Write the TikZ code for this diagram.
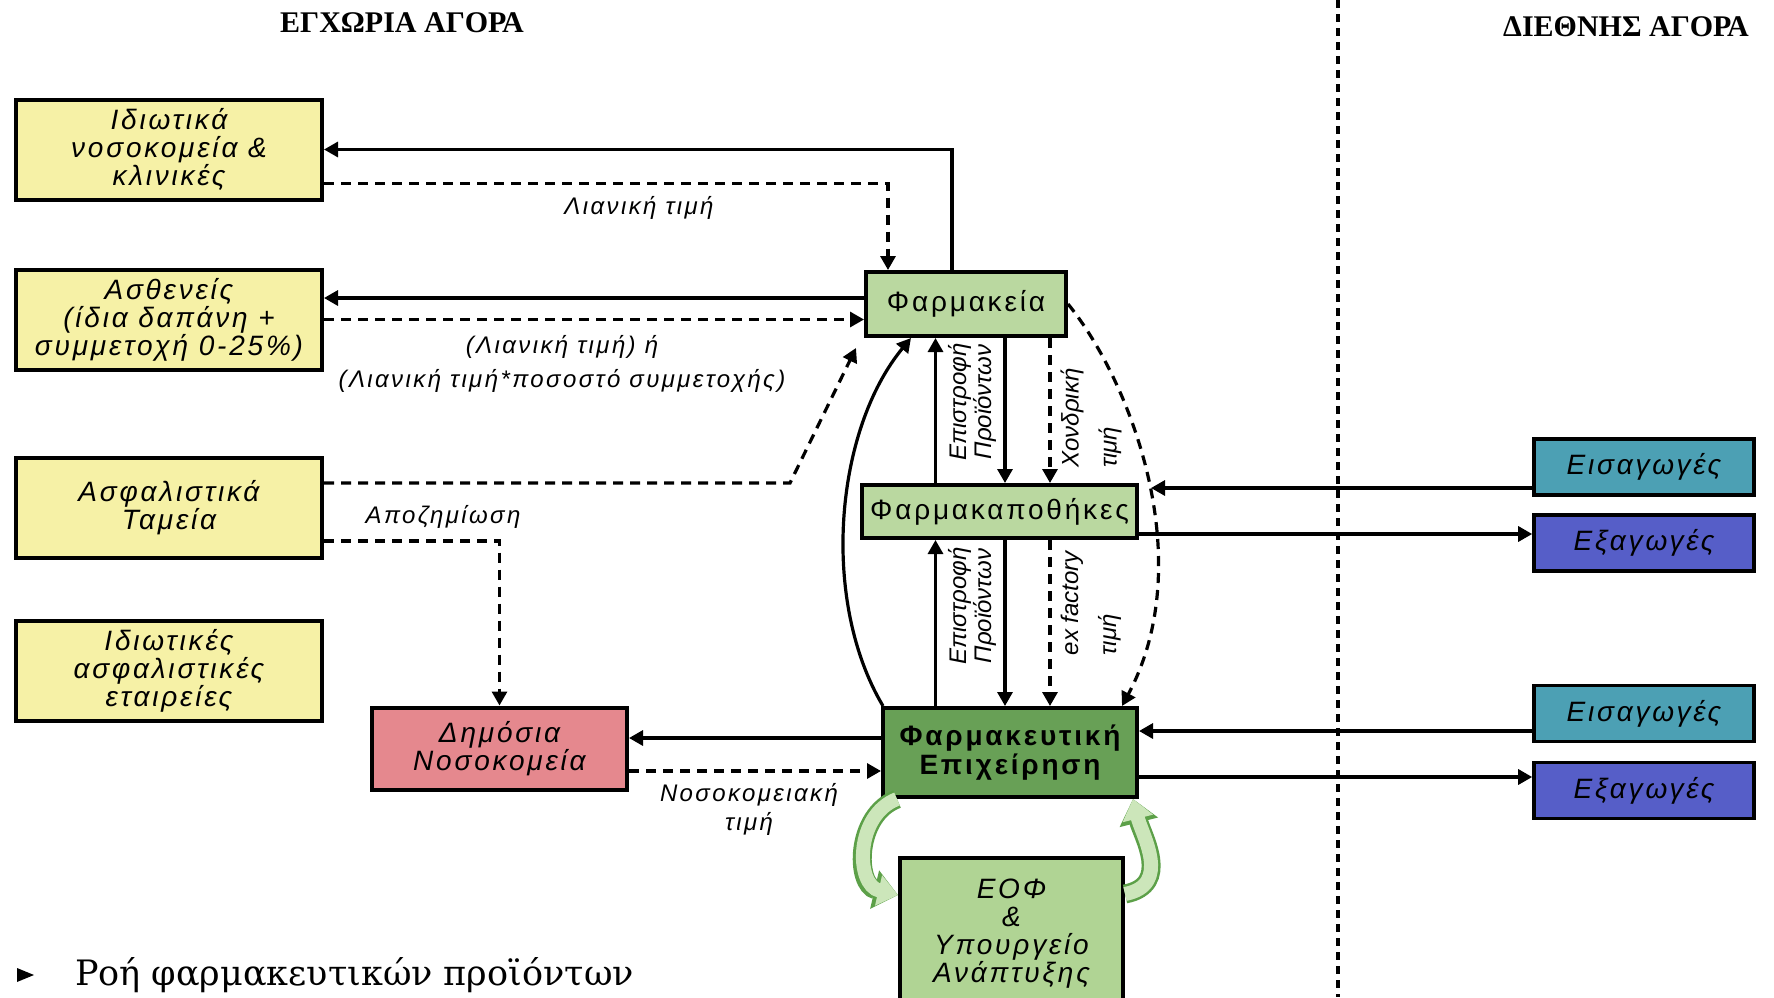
\documentclass[tikz,border=0pt]{standalone}
\usepackage{fontspec}
\setmainfont{Liberation Sans}
\newfontfamily\headfont{Liberation Serif}
\newfontfamily\legendfont{DejaVu Serif}
\newfontfamily\pharmafont[LetterSpace=10]{Liberation Sans}
\usepackage{tikz}
\usetikzlibrary{arrows.meta,positioning}
\definecolor{homeyellow}{RGB}{246,241,166}
\definecolor{pharmgreen}{RGB}{186,216,160}
\definecolor{compgreen}{RGB}{104,160,86}
\definecolor{eofgreen}{RGB}{176,212,148}
\definecolor{hospred}{RGB}{229,136,142}
\definecolor{importteal}{RGB}{76,160,180}
\definecolor{exportblue}{RGB}{86,94,200}
\definecolor{cycleline}{RGB}{92,160,72}
\definecolor{cyclefill}{RGB}{204,230,186}
\tikzset{
  pharma-box/.style={draw=black, line width=2pt, align=center, inner sep=2pt,
    font=\fontsize{14}{14}\selectfont\pharmafont\itshape},
  pharma-home/.style={pharma-box, fill=homeyellow, minimum width=153pt, minimum height=50pt},
  pharma-chain/.style={pharma-box, fill=pharmgreen, font=\fontsize{14}{14}\selectfont\pharmafont},
  pharma-trade/.style={pharma-box, minimum width=110pt, minimum height=28pt, line width=1.8pt},
  pharma-flow/.style={-{Triangle[length=7pt,width=7.5pt]}, line width=1.6pt},
  pharma-price/.style={pharma-flow, dash pattern=on 5pt off 3.5pt},
  pharma-label/.style={font=\fontsize{12}{12}\selectfont\pharmafont\itshape, inner sep=1pt},
  pharma-turn/.style={font=\fontsize{12}{10.5}\selectfont\itshape, inner sep=1pt, rotate=90},
  pharma-cycle/.style={line width=7pt, draw=cyclefill, -{Triangle[length=10pt,width=15pt]},
    preaction={draw=cycleline, line width=9.5pt, -{Triangle[length=12pt,width=19pt]}}},
  pharma-head/.style={font=\fontsize{15}{15}\selectfont\headfont\bfseries}
}
\begin{document}
\begin{tikzpicture}[x=0.5pt, y=-0.5pt]
  \useasboundingbox[fill=white] (0,0) rectangle (1774,997);
  \node[pharma-head] (local) at (402,23) {ΕΓΧΩΡΙΑ ΑΓΟΡΑ};
  \node[pharma-head] (global) at (1626,27) {ΔΙΕΘΝΗΣ ΑΓΟΡΑ};
  \draw[line width=2pt, dash pattern=on 4pt off 3pt] (1338,0) -- (1338,997);
  \foreach \name/\y/\words in {priv/149.5/{Ιδιωτικά\\νοσοκομεία \&\\κλινικές}, pat/319.5/{Ασθενείς\\(ίδια δαπάνη +\\συμμετοχή 0-25\%)}, fund/508/{Ασφαλιστικά\\Ταμεία}, ins/671/{Ιδιωτικές\\ασφαλιστικές\\εταιρείες}} {
    \node[pharma-home] (\name) at (169,\y) {\words};
  }
  \node[pharma-chain, minimum width=100pt, minimum height=32pt] (pharm) at (966,304) {Φαρμακεία};
  \node[pharma-chain, minimum width=137.5pt, minimum height=26.5pt] (whole) at (999.5,511.5) {Φαρμακαποθήκες};
  \node[pharma-box, fill=compgreen, font=\fontsize{14}{13}\selectfont\pharmafont\bfseries, minimum width=127pt, minimum height=44.5pt] (comp) at (1010,752.5) {Φαρμακευτική\\Επιχείρηση};
  \node[pharma-box, fill=eofgreen, minimum width=111.5pt, minimum height=76pt] (eof) at (1011.5,934) {ΕΟΦ\\\&\\Υπουργείο\\Ανάπτυξης};
  \node[pharma-box, fill=hospred, minimum width=127.5pt, minimum height=41pt] (pub) at (499.5,748.5) {Δημόσια\\Νοσοκομεία};
  \foreach \name/\y/\col/\words in {imp1/467/importteal/Εισαγωγές, exp1/543/exportblue/Εξαγωγές, imp2/713.5/importteal/Εισαγωγές, exp2/790.5/exportblue/Εξαγωγές} {
    \node[pharma-trade, fill=\col] (\name) at (1644,\y) {\words};
  }
  \coordinate (fbend) at (790,483);
  \draw[pharma-flow] ([xshift=-7pt]pharm.north) |- (priv.east);
  \draw[pharma-price] ([yshift=9pt]priv.south east) -| ([xshift=-39pt]pharm.north);
  \draw[pharma-flow] ([yshift=3pt]pharm.west) -- ([yshift=3pt]pharm.west -| pat.east);
  \draw[pharma-price] (pat.east) -- (pat.east -| pharm.west);
  \draw[pharma-price] ([yshift=12.5pt]fund.east) -- (fbend) -- ([shift={(-4pt,-5pt)}]pharm.south west);
  \draw[pharma-price] ([yshift=-16.5pt]fund.east) -| (pub.north);
  \draw[pharma-flow] ([xshift=1pt]comp.north west) .. controls (820,600) and (835,430) .. ([xshift=-27.5pt]pharm.south);
  \draw[pharma-flow] ([xshift=-32pt]whole.north) -- ([xshift=-32pt]whole.north |- pharm.south);
  \draw[pharma-flow] ([xshift=2.75pt]whole.north |- pharm.south) -- ([xshift=2.75pt]whole.north);
  \draw[pharma-price] ([xshift=25.25pt]whole.north |- pharm.south) -- ([xshift=25.25pt]whole.north);
  \draw[pharma-flow] ([xshift=-32pt]whole.south |- comp.north) -- ([xshift=-32pt]whole.south);
  \draw[pharma-flow] ([xshift=2.75pt]whole.south) -- ([xshift=2.75pt]whole.south |- comp.north);
  \draw[pharma-price] ([xshift=25.25pt]whole.south) -- ([xshift=25.25pt]whole.south |- comp.north);
  \draw[pharma-price] (pharm.east) .. controls (1130,380) and (1200,560) .. ([xshift=-8.5pt]comp.north east);
  \draw[pharma-flow] ([yshift=7.25pt]comp.west) -- ([yshift=7.25pt]comp.west -| pub.east);
  \draw[pharma-price] ([yshift=-9.25pt]comp.west -| pub.east) -- ([yshift=-9.25pt]comp.west);
  \draw[pharma-flow] ([yshift=-10.5pt]imp1.west) -- ([yshift=-10.5pt,xshift=6pt]imp1.west -| whole.east);
  \draw[pharma-flow] ([yshift=4.5pt]exp1.west -| whole.east) -- ([yshift=4.5pt]exp1.west);
  \draw[pharma-flow] ([yshift=-8.75pt]imp2.west) -- ([yshift=-8.75pt]imp2.west -| comp.east);
  \draw[pharma-flow] ([yshift=6.75pt]exp2.west -| comp.east) -- ([yshift=6.75pt]exp2.west);
  \draw[pharma-cycle] ([xshift=8pt]comp.south west) .. controls (855,815) and (855,885) .. ([yshift=19.5pt]eof.west);
  \draw[pharma-cycle] ([yshift=20pt]eof.east) .. controls (1172,885) and (1142,835) .. ([xshift=-3pt]comp.south east);
  \node[pharma-label] (retail) at (639,208) {Λιανική τιμή};
  \node[pharma-label, align=center, font=\fontsize{12}{17}\selectfont\pharmafont\itshape] (copay) at (562,364) {(Λιανική τιμή) ή\\(Λιανική τιμή*ποσοστό συμμετοχής)};
  \node[pharma-label] (refund) at (443,517) {Αποζημίωση};
  \node[pharma-label, align=center, font=\fontsize{12}{14.5}\selectfont\pharmafont\itshape] (hospprice) at (749,809) {Νοσοκομειακή\\τιμή};
  \node[pharma-turn, align=center] (return1) at (972,402) {Επιστροφή\\Προϊόντων};
  \node[pharma-turn, align=left, font=\fontsize{12}{19}\selectfont\itshape] (whprice) at (1091,418) {Χονδρική\\τιμή};
  \node[pharma-turn, align=center] (return2) at (972,606) {Επιστροφή\\Προϊόντων};
  \node[pharma-turn, align=left, font=\fontsize{12}{19}\selectfont\itshape] (exfactory) at (1091,603) {ex factory\\τιμή};
  \fill (17,968) -- (34,975) -- (17,982) -- cycle;
  \node[anchor=west, font=\fontsize{17.5}{17.5}\selectfont\legendfont] (legend) at (68,975) {Ροή φαρμακευτικών προϊόντων};
\end{tikzpicture}
\end{document}
